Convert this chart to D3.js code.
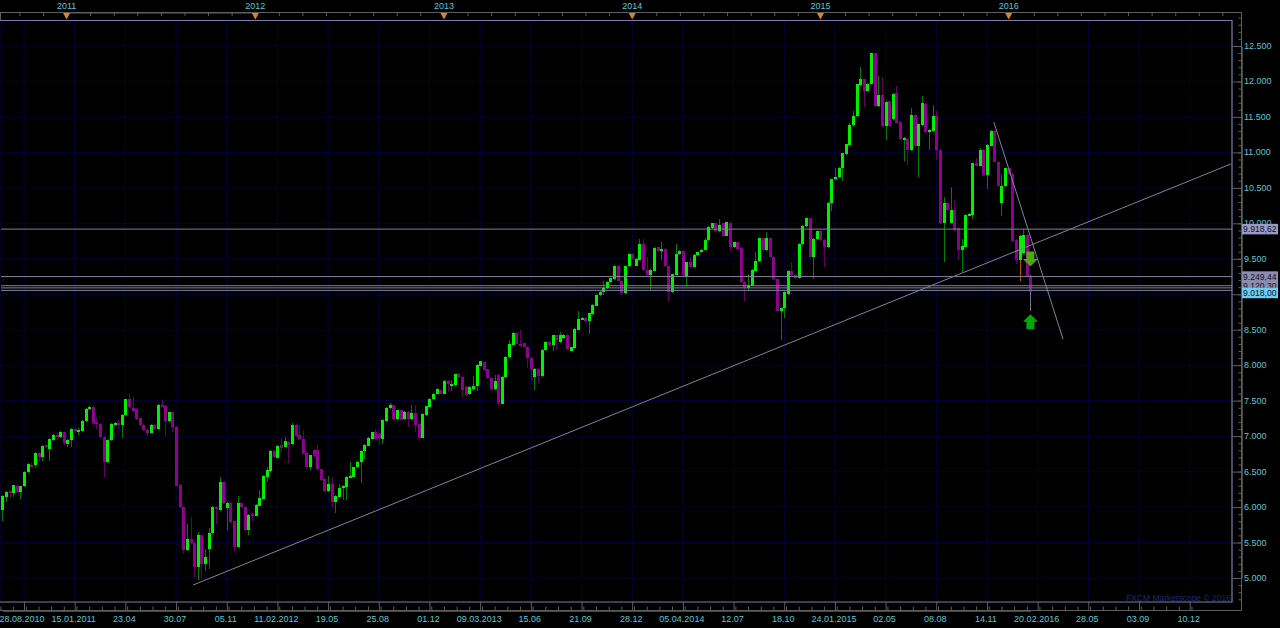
<!DOCTYPE html>
<html>
<head>
<meta charset="utf-8">
<script src="https://cdn.jsdelivr.net/npm/d3@7"></script>
<style>
html, body { margin: 0; padding: 0; background: #000; overflow: hidden; }
svg { display: block; }
text { font-family: "Liberation Sans", sans-serif; font-size: 9px; }
</style>
</head>
<body>
<svg id="chart" width="1280" height="628"></svg>
<script>
// weekly candles
var opens = [
 5960,6140,6220,6195,6300,6210,6290,6500,6600,6600,
 6760,6710,6870,6820,6945,7020,6985,7055,6890,6940,
 7100,7070,7070,7210,7385,7410,7200,7170,6990,6630,
 6940,7160,7190,7160,7295,7520,7400,7380,7250,7155,
 7090,7050,7150,7100,7440,7430,7210,7335,7135,6315,
 6005,5395,5550,5500,5150,5600,5200,5410,5630,6000,
 5965,6350,5980,6060,5800,5435,6055,6005,5670,5900,
 5880,6020,6120,6430,6510,6795,6695,6870,6850,6920,
 6885,7160,7010,6965,6765,6560,6810,6810,6530,6400,
 6225,6325,6075,6145,6275,6285,6420,6430,6560,6630,
 6795,6865,6965,7055,7030,6960,7215,7390,7435,7235,
 7365,7235,7340,7235,7320,7165,6980,7300,7415,7520,
 7600,7655,7600,7780,7720,7720,7875,7835,7695,7590,
 7670,7700,7995,8040,7940,7825,7660,7860,7460,7830,
 8110,8290,8455,8305,8310,8260,8100,7835,7950,7850,
 8210,8330,8280,8420,8330,8380,8430,8205,8240,8500,
 8650,8670,8630,8720,8840,8985,9030,9090,9170,9215,
 9405,9190,9015,9395,9570,9405,9490,9710,9345,9275,
 9335,9660,9615,9640,9395,9030,9275,9570,9615,9250,
 9450,9380,9555,9590,9630,9765,9935,10000,9890,10000,
 9825,10010,9665,9730,9650,9170,9090,9120,9335,9465,
 9790,9625,9790,9530,9215,8760,8810,9005,9335,9275,
 9230,9710,9965,10070,9520,9780,9897,9765,9660,10280,
 10620,10650,10785,10975,11100,11385,11510,11950,12030,11870,
 11970,12395,11650,11805,11370,11720,11465,11840,11430,11185,
 11195,11035,11525,11090,11385,11680,11290,11305,11510,11040,
 10010,10290,10010,10190,9930,9620,9670,10115,10120,10845,
 10815,11035,10680,11095,11300,10870,10290,10520,10775,10695,
 9765,9485,9580,9840,9260];
var closes = [
 6150,6210,6200,6305,6210,6295,6500,6610,6590,6760,
 6710,6865,6850,6960,7020,7010,7055,6900,6945,7100,
 7080,7090,7220,7385,7415,7180,7170,6985,6630,6945,
 7170,7190,7170,7300,7520,7405,7360,7240,7150,7080,
 7045,7155,7100,7445,7430,7210,7335,7125,6300,6000,
 5390,5550,5495,5150,5600,5200,5295,5635,6000,5975,
 6350,6055,6060,5785,5435,6055,6000,5670,5895,5880,
 6035,6130,6440,6520,6795,6710,6865,6830,6930,6870,
 7160,7000,6955,6755,6560,6730,6720,6530,6380,6225,
 6325,6075,6160,6275,6295,6425,6440,6560,6635,6795,
 6875,6975,7055,6965,6970,7225,7400,7435,7235,7365,
 7225,7345,7235,7320,7155,6980,7310,7420,7530,7600,
 7670,7600,7780,7730,7740,7870,7835,7650,7585,7695,
 7700,8000,8055,7930,7820,7660,7780,7470,7835,8115,
 8295,8455,8305,8300,8260,8095,7940,7950,7850,8220,
 8330,8280,8420,8350,8430,8430,8230,8250,8510,8650,
 8670,8620,8730,8850,8990,9030,9090,9170,9225,9405,
 9190,9015,9395,9570,9500,9500,9710,9340,9275,9340,
 9650,9615,9640,9395,9030,9280,9570,9615,9265,9450,
 9380,9555,9590,9630,9765,9955,10000,9895,9980,9825,
 10015,9660,9730,9640,9170,9090,9130,9340,9475,9790,
 9625,9790,9530,9215,8770,8810,9030,9335,9265,9230,
 9710,9965,10075,9520,9780,9885,9765,9660,10290,10620,
 10660,10785,10985,11115,11385,11510,11960,12030,11870,11970,
 12395,11650,11805,11370,11715,11370,11830,11420,11185,11200,
 11035,11525,11090,11400,11690,11290,11315,11510,11035,10000,
 10290,10190,10190,9905,9625,9680,10120,10130,10845,10815,
 11035,10680,11105,11300,10870,10525,10525,10775,10695,9750,
 9480,9825,9840,9260,9025];
var highs = [
 6170,6220,6240,6310,6320,6300,6510,6620,6620,6770,
 6770,6875,6880,6970,7030,7040,7070,7065,6960,7110,
 7110,7110,7230,7395,7425,7420,7260,7180,7000,6950,
 7180,7200,7230,7310,7530,7595,7570,7400,7260,7165,
 7100,7165,7160,7455,7510,7440,7345,7345,7145,6325,
 6015,5765,5857,5510,5645,5610,5410,5710,6020,6010,
 6420,6360,6070,6070,5810,6150,6065,6015,5905,5910,
 6045,6240,6450,6560,6805,6805,6875,6967,6990,6930,
 7190,7175,7155,7085,6775,6740,6820,6870,6540,6410,
 6440,6430,6170,6330,6305,6435,6640,6570,6645,6805,
 6885,6985,7065,7100,7040,7235,7410,7465,7445,7375,
 7375,7355,7350,7440,7440,7175,7320,7430,7540,7610,
 7680,7665,7790,7790,7790,7880,7885,7845,7705,7705,
 7845,8010,8065,8050,7950,7835,7860,7870,7845,8125,
 8350,8465,8465,8490,8320,8270,8110,7960,7960,8230,
 8340,8340,8430,8430,8470,8440,8440,8260,8520,8760,
 8680,8680,8740,8860,9000,9040,9190,9180,9235,9415,
 9415,9200,9405,9580,9580,9510,9780,9780,9520,9350,
 9660,9670,9730,9650,9405,9290,9710,9625,9625,9460,
 9530,9565,9600,9640,9795,9965,10010,10010,10055,10010,
 10025,10020,9740,9740,9660,9180,9290,9350,9590,9800,
 9800,9875,9800,9540,9225,8820,9040,9345,9450,9285,
 9720,9975,10085,10080,9790,9895,9910,9775,10300,10630,
 10780,10795,10995,11125,11410,11585,11970,12205,12040,11980,
 12405,12405,12075,12065,11725,11730,11840,11930,11440,11215,
 11205,11620,11535,11410,11790,11690,11325,11665,11590,11050,
 10375,10300,10515,10335,9940,9780,10130,10145,10855,10915,
 11060,11045,11115,11310,11310,10880,10680,10785,10785,10705,
 9775,9835,9920,9850,9270];
var lows = [
 5810,6070,6130,6140,6200,6115,6280,6480,6560,6550,
 6630,6655,6830,6655,6930,6950,6970,6880,6840,6840,
 7050,7010,7060,7200,7380,7170,7100,6975,6420,6620,
 6930,7150,7100,6980,7290,7395,7350,7230,7140,7070,
 7010,7040,7090,7090,7420,7000,7200,7060,6290,5990,
 5340,5385,5485,5010,4965,4980,5105,5130,5620,5755,
 5950,6040,5670,5775,5385,5425,5980,5660,5610,5800,
 5870,6010,6110,6360,6500,6700,6685,6780,6840,6615,
 6875,6990,6945,6745,6550,6520,6710,6520,6370,6215,
 6215,6000,5920,6135,6100,6100,6410,6420,6550,6335,
 6680,6855,6955,6955,6870,6890,7205,7380,7225,7225,
 7215,7225,7130,7225,7065,6970,6970,7290,7405,7510,
 7590,7590,7590,7640,7640,7710,7825,7555,7575,7580,
 7640,7640,7985,7920,7810,7650,7650,7425,7450,7820,
 8100,8280,8295,8250,8250,7955,7780,7655,7750,7840,
 8200,8270,8200,8220,8320,8370,8220,8195,8230,8490,
 8640,8610,8440,8710,8830,8975,8990,9080,9160,9205,
 9180,8985,9005,9385,9490,9395,9480,9330,9265,9060,
 9325,9605,9485,9385,8910,9020,9265,9560,9255,9105,
 9370,9370,9545,9580,9620,9755,9925,9885,9880,9815,
 9815,9615,9655,9630,9160,8910,9050,9110,9325,9455,
 9615,9615,9520,9205,8760,8355,8660,8995,9255,9220,
 9220,9700,9955,9510,9215,9770,9755,9390,9650,10170,
 10610,10640,10600,10965,11090,11375,11500,11940,11640,11860,
 11960,11640,11640,11360,11175,11360,11455,11410,11175,10875,
 10808,11025,11080,10660,11375,11280,11035,11295,10890,9990,
 9460,10180,10000,9895,9490,9320,9660,10105,10065,10805,
 10805,10670,10490,11085,10860,10515,10110,10510,10685,9740,
 9430,9190,9570,9250,8760];

// wicks that were drawn in another colour on the original
var oddWicks = {281: "#b4500f", 284: "#6f6f8c"};

var dateLabels = ["28.08.2010","15.01.2011","23.04","30.07","05.11","11.02.2012","19.05","25.08",
 "01.12","09.03.2013","15.06","21.09","28.12","05.04.2014","12.07","18.10","24.01.2015","02.05",
 "08.08","14.11","20.02.2016","28.05","03.09","10.12"];
var priceTicks = [5000,5500,6000,6500,7000,7500,8000,8500,9000,9500,10000,10500,11000,11500,12000,12500];
var yearLabels = ["2011","2012","2013","2014","2015","2016"];
var yearIndex = [17.75,69.9,122,174,226,278];

var levelLines = [9918.62,9249.44,9120.30,9090,9055];
var levelBoxes = [
  {price: 9918.62, text: "9.918,62", fill: "#9a9ac6"},
  {price: 9249.44, text: "9.249,44", fill: "#8c8cae"},
  {price: 9120.30, text: "9.120,30", fill: "#8c8cae"},
  {price: 9018.00, text: "9.018,00", fill: "#6fcdf5"}
];
var trendLines = [
  [52.7, 4901, 339.4, 10837],
  [273.9, 11429, 293, 8369]
];
var arrows = [
  {i: 284, price: 9390, dir: -1, fill: "#4fa80f"},
  {i: 284, price: 8720, dir: 1, fill: "#07a507"}
];

var svg = d3.select("#chart");
var teal = "#5ac6d2", frame = "#7c7cac", axisGray = "#5e5e5e", gridBlue = "#00003e";
var plot = {left: 1, right: 1232, top: 20.5, bottom: 602};

var x = d3.scaleLinear().domain([0, 284]).range([2.3, 1030.4]);
var y = d3.scaleLinear().domain([5000, 12500]).range([578, 46]);

var gridIdx = d3.range(6, 329, 14);

// grid
svg.append("g").selectAll("line").data(gridIdx).enter().append("line")
    .attr("x1", function(d) { return x(d); }).attr("x2", function(d) { return x(d); })
    .attr("y1", plot.top).attr("y2", plot.bottom)
    .attr("stroke", gridBlue);
svg.append("g").selectAll("line").data(priceTicks).enter().append("line")
    .attr("x1", plot.left).attr("x2", plot.right)
    .attr("y1", function(d) { return y(d); }).attr("y2", function(d) { return y(d); })
    .attr("stroke", gridBlue);
svg.append("line").attr("x1", 1).attr("x2", 1).attr("y1", plot.top).attr("y2", plot.bottom).attr("stroke", "#00003e");

// candles
var candles = d3.range(opens.length);
var g = svg.append("g").attr("shape-rendering", "crispEdges");
g.selectAll(".wick").data(candles).enter().append("line")
    .attr("class", "wick")
    .attr("x1", function(i) { return Math.round(x(i)) + 0.5; }).attr("x2", function(i) { return Math.round(x(i)) + 0.5; })
    .attr("y1", function(i) { return y(highs[i]); }).attr("y2", function(i) { return y(lows[i]); })
    .attr("stroke", function(i) {
        if (oddWicks[i]) return oddWicks[i];
        return closes[i] >= opens[i] ? "#007c00" : "#600060";
    });
g.selectAll(".body").data(candles).enter().append("rect")
    .attr("class", "body")
    .attr("x", function(i) { return Math.round(x(i)) - 1; })
    .attr("width", 3)
    .attr("y", function(i) { return y(Math.max(opens[i], closes[i])); })
    .attr("height", function(i) { return Math.max(2, Math.abs(y(opens[i]) - y(closes[i]))); })
    .attr("fill", function(i) { return closes[i] >= opens[i] ? "#00f000" : "#8e008e"; });

// horizontal levels and trend lines sit on top of the candles
svg.append("g").selectAll("line").data(levelLines).enter().append("line")
    .attr("x1", plot.left).attr("x2", plot.right)
    .attr("y1", function(d) { return y(d); }).attr("y2", function(d) { return y(d); })
    .attr("stroke", "#82829e");
svg.append("g").selectAll("line").data(trendLines).enter().append("line")
    .attr("x1", function(d) { return x(d[0]); }).attr("y1", function(d) { return y(d[1]); })
    .attr("x2", function(d) { return x(d[2]); }).attr("y2", function(d) { return y(d[3]); })
    .attr("stroke", "#82829e");

// entry arrows, tip sits on the price
svg.append("g").selectAll("path").data(arrows).enter().append("path")
    .attr("d", function(a) {
        var px = x(a.i), py = y(a.price), s = a.dir;
        return "M" + px + "," + py +
            "L" + (px + 7.5) + "," + (py + s * 7.5) +
            "L" + (px + 4) + "," + (py + s * 7.5) +
            "L" + (px + 4) + "," + (py + s * 15) +
            "L" + (px - 4) + "," + (py + s * 15) +
            "L" + (px - 4) + "," + (py + s * 7.5) +
            "L" + (px - 7.5) + "," + (py + s * 7.5) + "Z";
    })
    .attr("fill", function(a) { return a.fill; });

// frame, open on the left
svg.append("path")
    .attr("d", "M0," + plot.top + "L" + plot.right + "," + plot.top + "L" + plot.right + "," + plot.bottom + "L0," + plot.bottom)
    .attr("fill", "none").attr("stroke", frame).attr("stroke-width", 1.2);
svg.append("text").attr("x", 1231).attr("y", 601)
    .attr("text-anchor", "end").attr("fill", "#1c2a68")
    .style("font-size", "8.5px")
    .text("FXCM Marketscope © 2016");

function styleAxis(sel) {
    sel.selectAll("line").attr("stroke", axisGray);
    sel.select(".domain").attr("stroke", axisGray);
}

// bottom axis: labelled ticks at grid lines, small ones between
var bottomMinor = d3.axisTop(x).tickValues(d3.range(-0.5, 329, 3.5)).tickSize(4).tickFormat("").tickSizeOuter(0);
svg.append("g").attr("transform", "translate(0,610.5)").call(bottomMinor).call(styleAxis);
var bottomMajor = d3.axisTop(x).tickValues(gridIdx).tickSize(9).tickFormat("").tickSizeOuter(0);
svg.append("g").attr("transform", "translate(0,610.5)").call(bottomMajor).call(styleAxis);
svg.append("g").selectAll("text").data(dateLabels).enter().append("text")
    .attr("x", function(d, k) { return x(gridIdx[k]) - (k == 0 ? 2 : 1); })
    .attr("y", 622).attr("text-anchor", "middle").attr("fill", teal)
    .text(function(d) { return d; });
svg.append("line").attr("x1", 0).attr("x2", 1241.5).attr("y1", 610.5).attr("y2", 610.5).attr("stroke", axisGray);

// top axis: months and year flags
var topScale = d3.scaleLinear().domain([0, 52.14]).range([x(17.75), x(17.75) + 188.7]);
var topTicks = d3.range(-13.04, 320, 6.518);
svg.append("g").attr("transform", "translate(0,12.5)")
    .call(d3.axisBottom(topScale).tickValues(topTicks).tickSize(3.5).tickFormat("").tickSizeOuter(0))
    .call(styleAxis);
svg.append("line").attr("x1", 0).attr("x2", 1241.5).attr("y1", 12.5).attr("y2", 12.5).attr("stroke", axisGray);
svg.append("line").attr("x1", 0.5).attr("x2", 0.5).attr("y1", 12.5).attr("y2", 20.5).attr("stroke", axisGray);
svg.append("g").selectAll("path").data(yearIndex).enter().append("path")
    .attr("d", function(d) { var px = x(d); return "M" + (px - 3.5) + ",13L" + (px + 3.5) + ",13L" + px + ",19.5Z"; })
    .attr("fill", "#e0851c");
svg.append("g").selectAll("text").data(yearLabels).enter().append("text")
    .attr("x", function(d, k) { return x(yearIndex[k]); })
    .attr("y", 9).attr("text-anchor", "middle").attr("fill", teal)
    .text(function(d) { return d; });

// right axis
var rightMinor = d3.axisLeft(y).tickValues(d3.range(4700, 13000, 100)).tickSize(3).tickFormat("").tickSizeOuter(0);
var rightMajor = d3.axisLeft(y).tickValues(priceTicks).tickSize(9).tickFormat("").tickSizeOuter(0);
svg.append("g").attr("transform", "translate(1241.5,0)").call(rightMinor).call(styleAxis);
svg.append("g").attr("transform", "translate(1241.5,0)").call(rightMajor).call(styleAxis);
svg.append("line").attr("x1", 1241.5).attr("x2", 1241.5).attr("y1", 12.5).attr("y2", 610.5).attr("stroke", axisGray);
svg.append("g").selectAll("text").data(priceTicks).enter().append("text")
    .attr("x", 1244).attr("y", function(d) { return y(d) + 3; })
    .attr("fill", teal)
    .text(function(d) { return d3.format(",")(d).replace(",", "."); });

// price boxes
var boxes = svg.append("g").selectAll("g").data(levelBoxes).enter().append("g");
boxes.append("rect")
    .attr("x", 1242).attr("width", 36).attr("height", 10.5)
    .attr("y", function(d) { return y(d.price) - 5.25; })
    .attr("fill", function(d) { return d.fill; });
boxes.append("text")
    .attr("x", 1243).attr("y", function(d) { return y(d.price) + 3; })
    .attr("fill", "#111122")
    .style("font-size", "8.6px")
    .text(function(d) { return d.text; });
</script>
</body>
</html>
